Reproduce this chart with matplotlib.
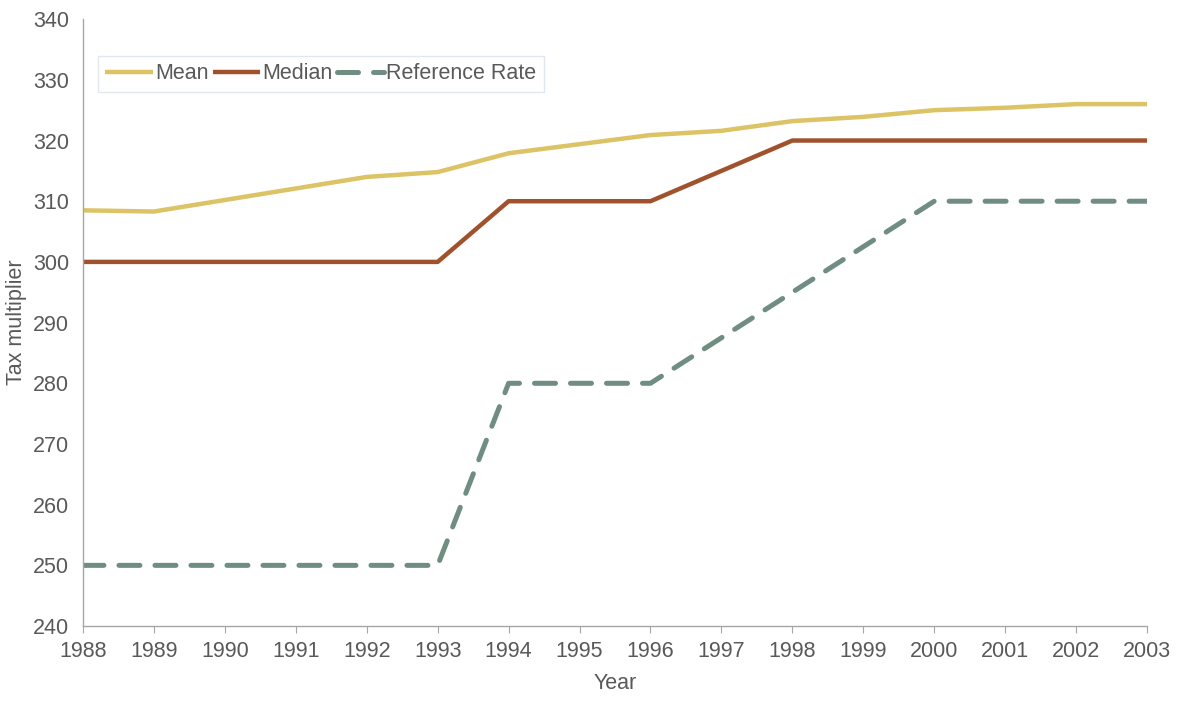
import matplotlib
matplotlib.use("Agg")
import matplotlib.pyplot as plt

# values
years = list(range(1988, 2004))
mean_vals = [308.5, 308.3, 310.2, 312.1, 314.0, 314.8, 317.9, 319.4, 320.9, 321.6,
             323.2, 323.9, 325.0, 325.4, 326.0, 326.0]
median_vals = [300, 300, 300, 300, 300, 300, 310, 310, 310, 315,
               320, 320, 320, 320, 320, 320]
ref_vals = [250, 250, 250, 250, 250, 250, 280, 280, 280, 287.5,
            295, 302.5, 310, 310, 310, 310]

grey = '#595959'
fs = 15.5
plt.rcParams['font.family'] = ['Liberation Sans', 'DejaVu Sans']

fig = plt.figure(figsize=(11.85, 7.09), dpi=100)
ax = fig.add_axes([0.070, 0.117, 0.898, 0.856])

ax.plot(years, mean_vals, color='#DCC365', lw=3.2, label='Mean', solid_capstyle='butt')
ax.plot(years, median_vals, color='#A0522D', lw=3.2, label='Median', solid_capstyle='butt')
ax.plot(years, ref_vals, color='#6F8D80', lw=3.6, label='Reference Rate',
        dashes=(4.2, 3.0), dash_capstyle='round')

ax.set_xlim(1988, 2003)
ax.set_ylim(240, 340)
ax.set_xticks(years)
ax.set_yticks(range(240, 341, 10))
ax.tick_params(axis='x', colors=grey, labelsize=fs, length=5, color='#A6A6A6', pad=6)
ax.tick_params(axis='y', colors=grey, labelsize=fs, length=0, pad=10)
ax.tick_params(axis='x', labelcolor=grey)
for s in ['top', 'right']:
    ax.spines[s].set_visible(False)
for s in ['left', 'bottom']:
    ax.spines[s].set_color('#A6A6A6')
    ax.spines[s].set_linewidth(1.0)

ax.set_xlabel('Year', color=grey, fontsize=fs, labelpad=8)
ax.set_ylabel('Tax multiplier', color=grey, fontsize=fs, labelpad=4)

leg = ax.legend(loc='upper left', bbox_to_anchor=(0.014, 0.94), ncol=3, fontsize=fs,
                frameon=True, fancybox=False, handlelength=2.2, handletextpad=0.1,
                columnspacing=0.2, borderpad=0.35, borderaxespad=0)
leg.get_frame().set_edgecolor('#D9E1EA')
leg.get_frame().set_linewidth(1.0)
for t in leg.get_texts():
    t.set_color(grey)

fig.savefig('out.png', dpi=100)
